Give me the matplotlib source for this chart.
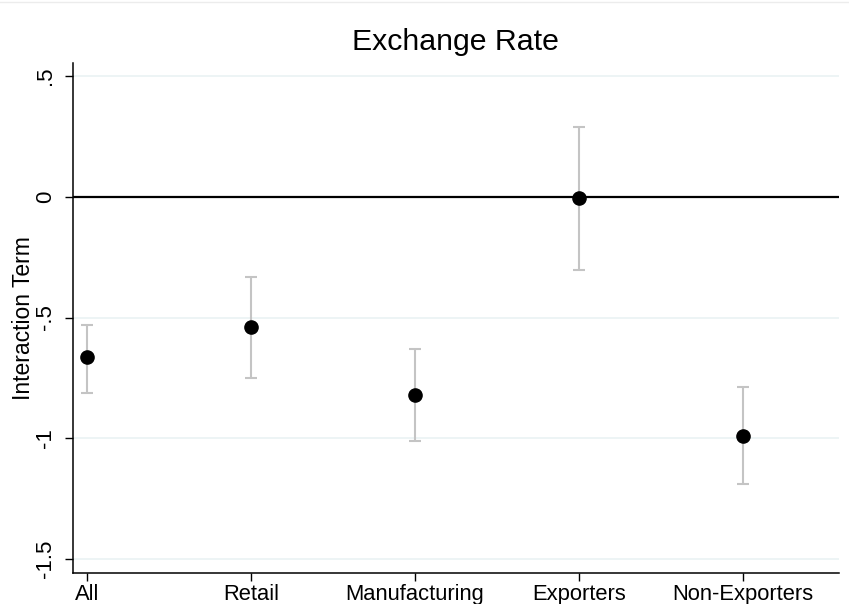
import matplotlib
matplotlib.use("Agg")
import matplotlib.pyplot as plt
from matplotlib.lines import Line2D

plt.rcParams["font.family"] = ["Liberation Sans", "DejaVu Sans"]

categories = ["All", "Retail", "Manufacturing", "Exporters", "Non-Exporters"]
estimates = [-0.665, -0.540, -0.822, -0.005, -0.990]
ci_low = [-0.813, -0.751, -1.012, -0.303, -1.191]
ci_high = [-0.531, -0.332, -0.631, 0.290, -0.788]
y_ticks = [0.5, 0, -0.5, -1, -1.5]
y_tick_labels = [".5", "0", "-.5", "-1", "-1.5"]

fig = plt.figure(figsize=(8.49, 6.04), dpi=100)
ax = fig.add_axes([0.086, 0.0513, 0.902, 0.8444])

# faint frame line along the top edge, as in the Stata export
fig.add_artist(Line2D([0, 1], [0.997, 0.997], transform=fig.transFigure,
                      color="#ececec", lw=1))

x = list(range(1, len(categories) + 1))
err_lo = [e - lo for e, lo in zip(estimates, ci_low)]
err_hi = [hi - e for e, hi in zip(estimates, ci_high)]

for yt in y_ticks:
    ax.axhline(yt, color="#eaf2f3", lw=1.2, zorder=0)
ax.axhline(0, color="black", lw=1.6, zorder=1)

ax.errorbar(x, estimates, yerr=[err_lo, err_hi], fmt="none", ecolor="#c4c4c4",
            elinewidth=1.5, capsize=4, capthick=1.5, zorder=2)
ax.plot(x, estimates, "o", color="black", markersize=9.5, zorder=3)

ax.set_xlim(0.915, 5.585)
ax.set_ylim(-1.558, 0.554)
ax.set_xticks(x)
ax.set_xticklabels(categories, fontsize=15.8)
ax.set_yticks(y_ticks)
ax.set_yticklabels(y_tick_labels, fontsize=16, rotation=90, va="center")
ax.tick_params(length=6, width=1, color="black")
ax.tick_params(axis="x", pad=2)
ax.tick_params(axis="y", pad=6)
ax.set_ylabel("Interaction Term", fontsize=16.5, labelpad=0)
ax.set_title("Exchange Rate", fontsize=21.8, pad=9)

for side in ["top", "right"]:
    ax.spines[side].set_visible(False)
for side in ["left", "bottom"]:
    ax.spines[side].set_linewidth(1.1)

fig.savefig("out.png", dpi=100, facecolor="white")
